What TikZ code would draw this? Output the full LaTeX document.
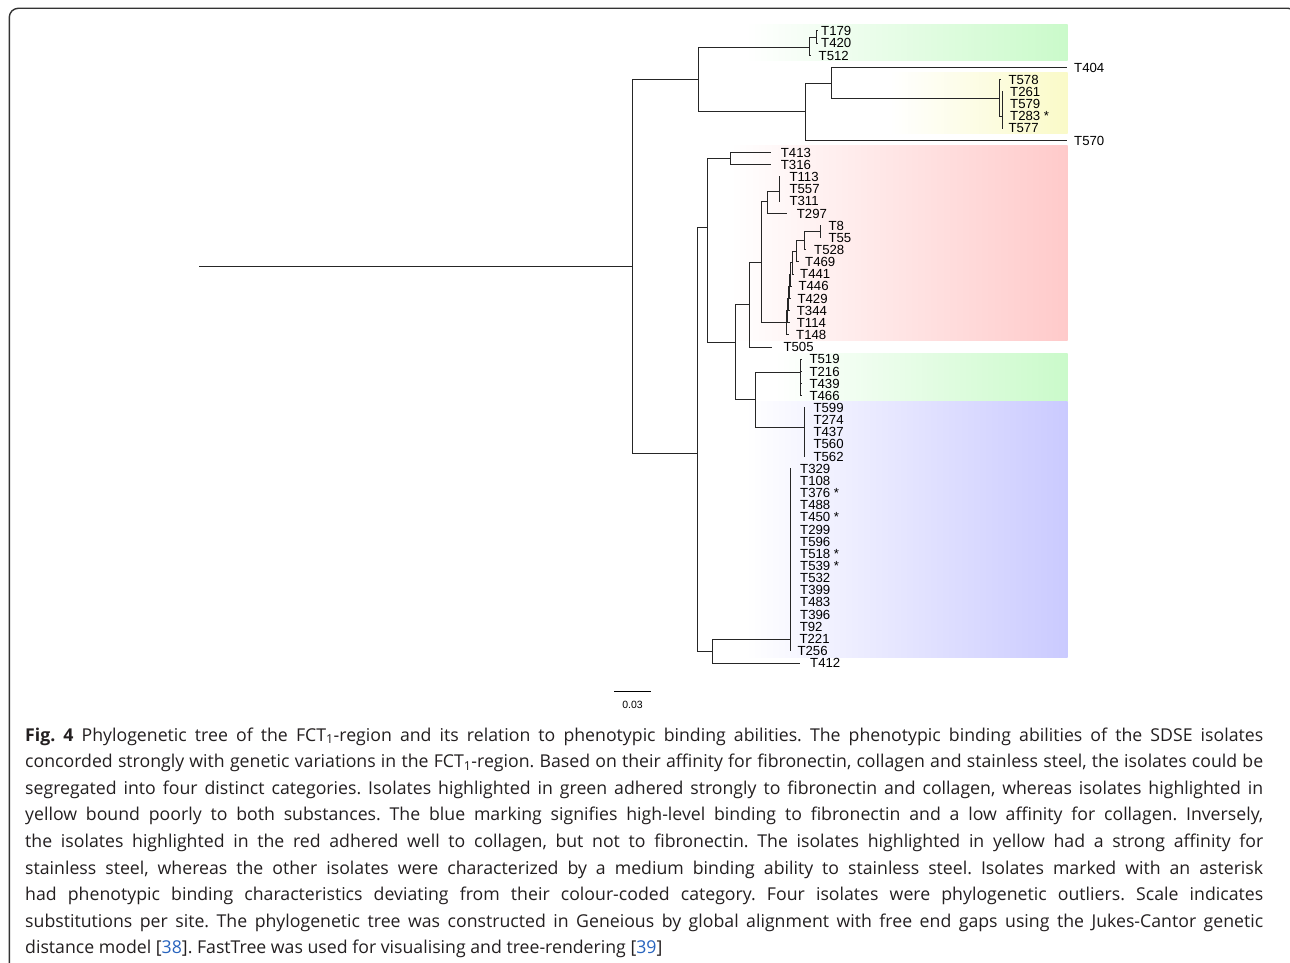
\documentclass[tikz,border=0pt]{standalone}
\usepackage{fontspec}
\setmainfont{Open Sans}
\newfontfamily\treefam{Liberation Sans}
\definecolor{grn}{RGB}{202,250,202}
\definecolor{ylw}{RGB}{250,250,200}
\definecolor{rd}{RGB}{255,202,202}
\definecolor{blu}{RGB}{202,202,255}
\definecolor{cite}{RGB}{40,100,190}
\definecolor{captxt}{RGB}{35,31,32}
\newcommand\treefont{\treefam\fontsize{13.2}{13.2}\selectfont}
\newcommand\capfont{\fontsize{17.7}{26.6}\selectfont}
\tikzset{
  br/.style={line width=1.0pt, draw=black!85},
  lbl/.style={anchor=west, inner sep=0pt, font=\treefont, text height=9.5pt, text depth=0pt},
  capl/.style={anchor=base west, inner sep=0pt, font=\capfont, text=captxt},
  frame/.style={line width=1.4pt, draw=black!80, rounded corners=9pt}
}
% internal node: name, parent, x, y
\newcommand\inode[4]{\coordinate (#1) at (#3,#4); \draw[br] (#2) |- (#1);}
% leaf: name, parent, tip x, y, label x, text
\newcommand\leafnode[6]{\coordinate (#1) at (#3,#4); \draw[br] (#2) |- (#1); \node[lbl] (#1l) at (#5,#4) {#6};}
\newcommand\capline[3]{\node[capl] (#1) at (25,#2) {\makebox[1238pt][s]{#3}};}
\frenchspacing
\begin{document}
\frenchspacing
\begin{tikzpicture}[x=1pt,y=-1pt]
\useasboundingbox (0,0) rectangle (1290,963);
\clip (0,0) rectangle (1290,963);
\fill[white] (0,0) rectangle (1290,963);
\draw[frame] (9.3,8.3) rectangle (1297,1010);
% colour bands
\shade[left color=white,right color=grn] (745,24.3) rectangle (1067.5,60.5);
\shade[left color=white,right color=ylw] (890,73) rectangle (1067.5,134);
\shade[left color=white,right color=rd] (730,145.7) rectangle (1067.5,340.7);
\shade[left color=white,right color=grn] (775,353.3) rectangle (1067.5,401.5);
\shade[left color=white,right color=blu] (745,401.5) rectangle (1067.5,657.5);
% root
\coordinate (rootL) at (199,266.5);
\coordinate (root) at (632.7,266.5);
\draw[br] (rootL) -- (root);
% upper clade
\inode{K}{root}{698.3}{80}
\inode{L}{K}{809.3}{47.3}
\inode{LL}{L}{816.7}{37.1}
\leafnode{t179}{LL}{817.7}{31.0}{821}{T179}
\leafnode{t420}{LL}{817.7}{43.15}{821}{T420}
\leafnode{t512}{L}{811}{55.3}{818.5}{T512}
\inode{M}{K}{805.7}{111.85}
\inode{N}{M}{831.7}{83.3}
\leafnode{t404}{N}{1066.7}{67.46}{1074}{T404}
\inode{O}{N}{999}{98.3}
\leafnode{t578}{O}{1000.5}{79.6}{1008.3}{T578}
\inode{P}{O}{1002.3}{116.7}
\leafnode{t261}{P}{1003.3}{91.77}{1010}{T261}
\leafnode{t579}{P}{1003.3}{103.92}{1010}{T579}
\leafnode{t283}{P}{1003.3}{116.08}{1010}{T283 *}
\leafnode{t577}{P}{1003.3}{128.23}{1008.3}{T577}
\leafnode{t570}{M}{1066.7}{140.39}{1074}{T570}
% lower clade
\inode{A}{root}{697.3}{453.3}
\inode{B}{A}{707.7}{227.7}
\inode{Bone}{B}{730.7}{158.6}
\leafnode{t413}{Bone}{771}{152.54}{780.7}{T413}
\leafnode{t316}{Bone}{771}{164.69}{780.7}{T316}
\inode{D}{B}{735}{342.7}
\inode{E}{D}{749.3}{304}
\inode{G}{E}{761}{262.7}
\inode{H}{G}{767.3}{201}
\inode{J}{H}{779.3}{191.7}
\leafnode{t113}{J}{780.3}{176.85}{789.3}{T113}
\leafnode{t557}{J}{780.3}{189.0}{789.3}{T557}
\leafnode{t311}{J}{780.3}{201.16}{789.3}{T311}
\leafnode{t297}{H}{786.7}{213.31}{796.7}{T297}
\inode{I}{G}{786.5}{322.7}
\inode{Sfive}{I}{787.3}{310}
\inode{Sfour}{Sfive}{788}{298}
\inode{Sthree}{Sfour}{789}{286}
\inode{Stwo}{Sthree}{790.5}{274}
\inode{Sone}{Stwo}{792.7}{262.7}
\inode{R}{Sone}{796.7}{251.3}
\inode{Q}{R}{804.3}{240.7}
\inode{Qone}{Q}{820}{231.5}
\leafnode{t8}{Qone}{821}{225.46}{828.3}{T8}
\leafnode{t55}{Qone}{821}{237.62}{828.3}{T55}
\leafnode{t528}{Q}{806}{249.77}{814}{T528}
\leafnode{t469}{R}{798.5}{261.93}{805}{T469}
\leafnode{t441}{Sone}{793.7}{274.08}{800}{T441}
\leafnode{t446}{Stwo}{792}{286.23}{798.3}{T446}
\leafnode{t429}{Sthree}{791}{298.39}{797.3}{T429}
\leafnode{t344}{Sfour}{790}{310.54}{796.7}{T344}
\leafnode{t114}{Sfive}{789.5}{322.7}{796.7}{T114}
\leafnode{t148}{I}{789}{334.85}{796}{T148}
\leafnode{t505}{E}{771.7}{347.0}{783.3}{T505}
\inode{F}{D}{755.7}{399.3}
\inode{Fone}{F}{800.7}{372.7}
\leafnode{t519}{Fone}{801.7}{359.16}{809.3}{T519}
\leafnode{t216}{Fone}{801.7}{371.31}{809.3}{T216}
\leafnode{t439}{Fone}{801.7}{383.47}{809.3}{T439}
\leafnode{t466}{Fone}{801.7}{395.62}{809.3}{T466}
\inode{Ftwo}{F}{804}{427}
\leafnode{t599}{Ftwo}{805}{407.78}{813.3}{T599}
\leafnode{t274}{Ftwo}{805}{419.93}{813.3}{T274}
\leafnode{t437}{Ftwo}{805}{432.08}{813.3}{T437}
\leafnode{t560}{Ftwo}{805}{444.24}{813.3}{T560}
\leafnode{t562}{Ftwo}{805}{456.39}{813.3}{T562}
\inode{C}{A}{712}{651}
\inode{CL}{C}{790}{639}
\leafnode{t329}{CL}{791}{468.55}{800}{T329}
\leafnode{t108}{CL}{791}{480.7}{800}{T108}
\leafnode{t376}{CL}{791}{492.85}{800}{T376 *}
\leafnode{t488}{CL}{791}{505.01}{800}{T488}
\leafnode{t450}{CL}{791}{517.16}{800}{T450 *}
\leafnode{t299}{CL}{791}{529.32}{800}{T299}
\leafnode{t596}{CL}{791}{541.47}{800}{T596}
\leafnode{t518}{CL}{791}{553.62}{800}{T518 *}
\leafnode{t539}{CL}{791}{565.78}{800}{T539 *}
\leafnode{t532}{CL}{791}{577.93}{800}{T532}
\leafnode{t399}{CL}{791}{590.09}{800}{T399}
\leafnode{t483}{CL}{791}{602.24}{800}{T483}
\leafnode{t396}{CL}{791}{614.4}{800}{T396}
\leafnode{t92}{CL}{791}{626.55}{799.6}{T92}
\leafnode{t221}{CL}{791}{638.7}{799.3}{T221}
\leafnode{t256}{CL}{791}{650.86}{797.3}{T256}
\leafnode{t412}{C}{800}{663.01}{810}{T412}
% scale bar
\coordinate (sbL) at (614.3,691.5);
\coordinate (sbR) at (651,691.5);
\draw[line width=1.3pt] (sbL) -- (sbR);
\node[anchor=base, inner sep=0pt, font=\treefam\fontsize{10.5}{10.5}\selectfont] (sbt) at (632.6,708.5) {0.03};
% caption
\capline{c1}{741}{\textbf{Fig. 4} Phylogenetic tree of the FCT\textsubscript{1}-region and its relation to phenotypic binding abilities. The phenotypic binding abilities of the SDSE isolates}
\capline{c2}{767.6}{concorded strongly with genetic variations in the FCT\textsubscript{1}-region. Based on their affinity for fibronectin, collagen and stainless steel, the isolates could be}
\capline{c3}{794.2}{segregated into four distinct categories. Isolates highlighted in green adhered strongly to fibronectin and collagen, whereas isolates highlighted in}
\capline{c4}{820.8}{yellow bound poorly to both substances. The blue marking signifies high-level binding to fibronectin and a low affinity for collagen. Inversely,}
\capline{c5}{847.4}{the isolates highlighted in the red adhered well to collagen, but not to fibronectin. The isolates highlighted in yellow had a strong affinity for}
\capline{c6}{874}{stainless steel, whereas the other isolates were characterized by a medium binding ability to stainless steel. Isolates marked with an asterisk}
\capline{c7}{900.6}{had phenotypic binding characteristics deviating from their colour-coded category. Four isolates were phylogenetic outliers. Scale indicates}
\capline{c8}{927.2}{substitutions per site. The phylogenetic tree was constructed in Geneious by global alignment with free end gaps using the Jukes-Cantor genetic}
\node[capl] (c9) at (25,953.8) {distance model [\textcolor{cite}{38}]. FastTree was used for visualising and tree-rendering [\textcolor{cite}{39}]};
\end{tikzpicture}
\end{document}
